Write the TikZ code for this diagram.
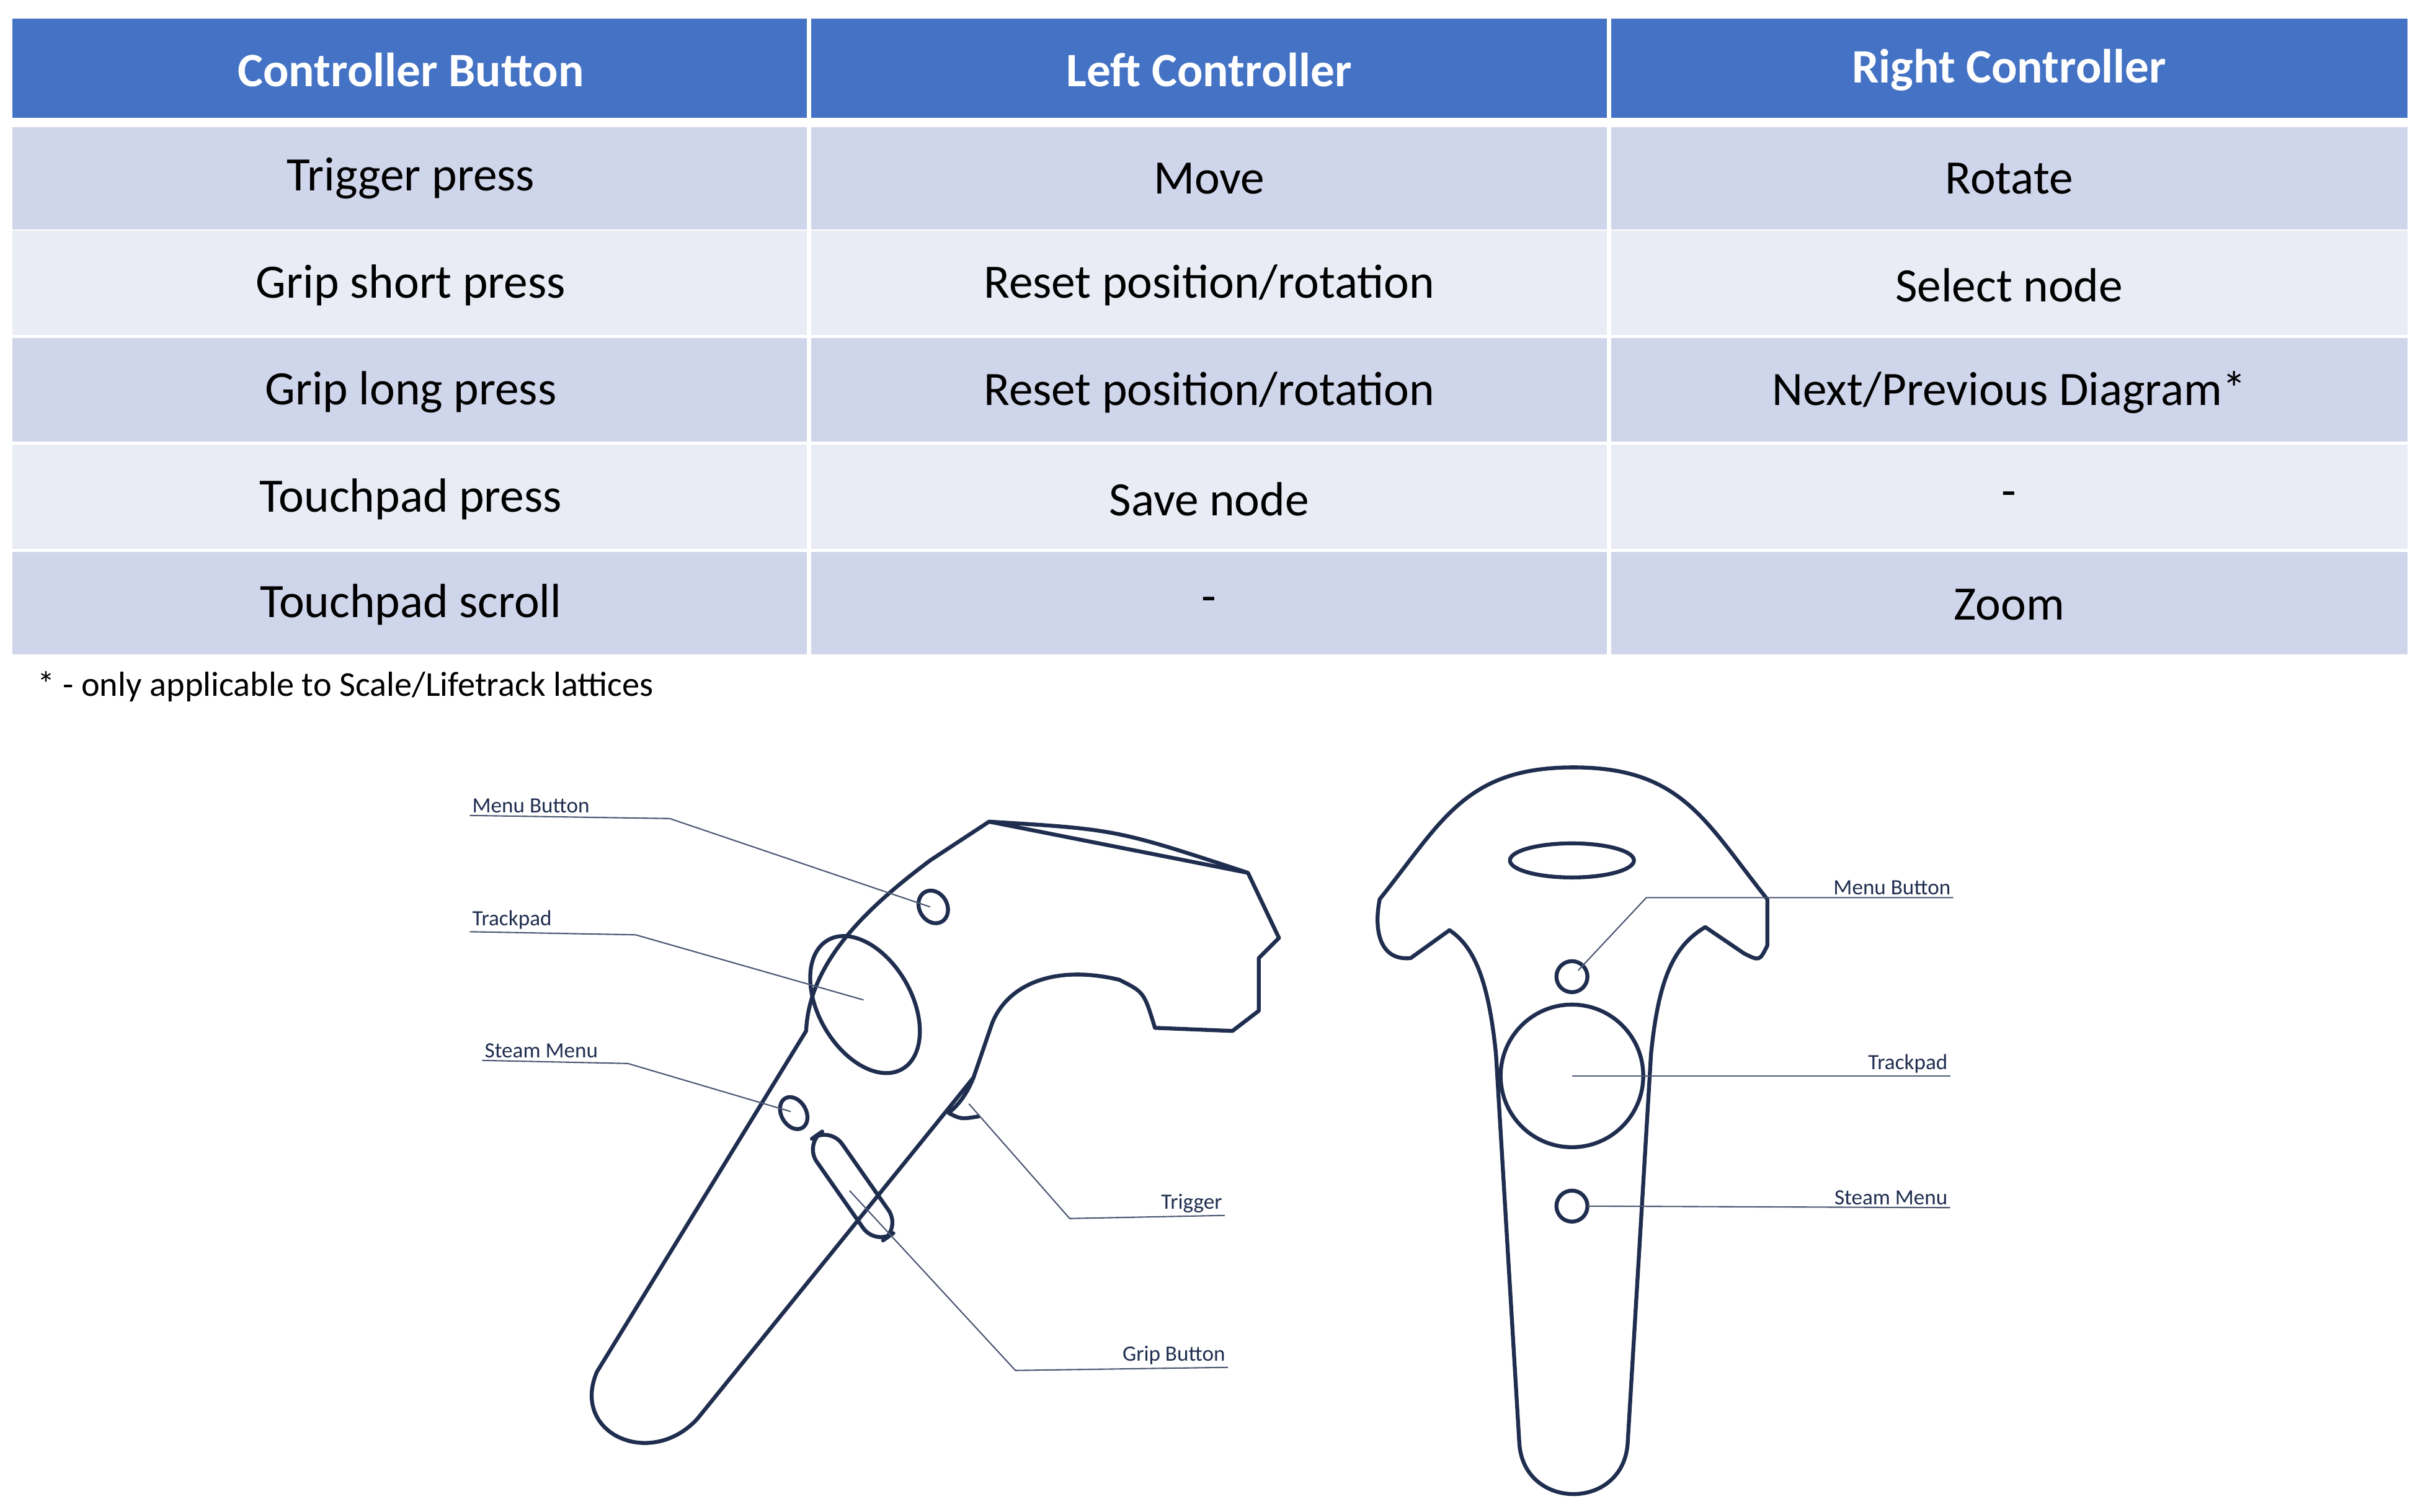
\documentclass[tikz,border=0pt]{standalone}
\usepackage{fontspec}
\setmainfont{Carlito}
\definecolor{hdr}{HTML}{4472C4}
\definecolor{rowa}{HTML}{CFD5EA}
\definecolor{rowb}{HTML}{E9EBF5}
\definecolor{ink}{HTML}{1F2D4F}
\begin{document}
\begin{tikzpicture}[x=0.025cm,y=-0.025cm,
  cell/.style={minimum width=12.85cm,minimum height=1.65cm,inner sep=0,anchor=center,font=\fontsize{22}{26}\selectfont},
  hcell/.style={cell,text=white,font=\fontsize{22}{26}\selectfont\bfseries},
  body/.style={draw=ink,line width=1.8pt,line join=round},
  lbl/.style={font=\fontsize{10}{12}\selectfont,text=ink,inner sep=1pt},
  lead/.style={draw=ink!80,line width=0.6pt}]
\useasboundingbox (0,0) rectangle (1563,975);
% table backgrounds
\fill[hdr] (8,12) rectangle (1553,76);
\foreach \a/\b/\c in {82/148/rowa,149/216/rowb,218/285/rowa,287/354/rowb,356/422/rowa}{\fill[\c] (8,\a) rectangle (1553,\b);}
\foreach \x in {522,1038}{\draw[white,line width=2pt] (\x,12)--(\x,422);}
\draw[white,line width=3pt] (8,79)--(1553,79);
% header
\node[hcell] (h1) at (265,45) {Controller Button};
\node[hcell] (h2) at (780,45) {Left Controller};
\node[hcell] (h3) at (1296,45) {Right Controller};
\node[cell] (r1a) at (265,115) {Trigger press};
\node[cell] (r1b) at (780,115) {Move};
\node[cell] (r1c) at (1296,115) {Rotate};
\node[cell] (r2a) at (265,184) {Grip short press};
\node[cell] (r2b) at (780,184) {Reset position/rotation};
\node[cell] (r2c) at (1296,184) {Select node};
\node[cell] (r3a) at (265,253) {Grip long press};
\node[cell] (r3b) at (780,253) {Reset position/rotation};
\node[cell] (r3c) at (1296,253) {Next/Previous Diagram*};
\node[cell] (r4a) at (265,322) {Touchpad press};
\node[cell] (r4b) at (780,322) {Save node};
\node[cell] (r4c) at (1296,322) {-};
\node[cell] (r5a) at (265,390) {Touchpad scroll};
\node[cell] (r5b) at (780,390) {-};
\node[cell] (r5c) at (1296,390) {Zoom};
\node[anchor=west,inner sep=0,font=\fontsize{16}{19}\selectfont] (foot) at (24,443) {* - only applicable to Scale/Lifetrack lattices};
% left controller
\draw[body] (638,530) -- (805,563) -- (825,605) -- (812,618) -- (812,652) -- (795,665) -- (745,663)
  .. controls (738,640) .. (722,632) .. controls (680,622) and (650,635) .. (640,660)
  -- (628,695) -- (450,915) .. controls (420,948) and (368,925) .. (385,885)
  -- (520,665) .. controls (522,620) and (560,585) .. (600,555) -- cycle;
\draw[body] (638,530) .. controls (720,535) .. (805,563);
\draw[body] (628,695) .. controls (622,710) and (615,715) .. (612,718) .. controls (620,722) .. (632,720);
\draw[body] (602,585) ellipse [x radius=9,y radius=11,rotate=30];
\draw[body] (558,648) ellipse [x radius=30,y radius=48,rotate=30];
\draw[body] (512,718) ellipse [x radius=8,y radius=11,rotate=30];
\draw[body,rotate around={-55:(550,765)},rounded corners=10] (510,755) rectangle (590,775);
\coordinate (lm) at (600,585); \coordinate (lt) at (557,645); \coordinate (ls) at (510,717);
\coordinate (ltr) at (625,712); \coordinate (lg) at (548,768);
\node[lbl,anchor=south west] (Lm) at (303,526) {Menu Button};
\node[lbl,anchor=south west] (Lt) at (303,601) {Trackpad};
\node[lbl,anchor=south west] (Ls) at (311,684) {Steam Menu};
\node[lbl,anchor=south east] (Ltr) at (790,784) {Trigger};
\node[lbl,anchor=south east] (Lg) at (792,882) {Grip Button};
\draw[lead] (Lm.south west) -- (432,528) -- (lm);
\draw[lead] (Lt.south west) -- (410,603) -- (lt);
\draw[lead] (Ls.south west) -- (405,686) -- (ls);
\draw[lead] (Ltr.south east) -- (690,786) -- (ltr);
\draw[lead] (Lg.south east) -- (655,884) -- (lg);
% right controller
\draw[body] (890,580) .. controls (930,530) and (945,495) .. (1015,495)
  .. controls (1085,495) and (1100,530) .. (1140,580) -- (1140,610) .. controls (1135,620) .. (1125,615)
  -- (1100,598) .. controls (1080,610) and (1070,630) .. (1065,680) -- (1050,930)
  .. controls (1048,975) and (982,975) .. (980,930) -- (965,680)
  .. controls (960,630) and (950,610) .. (935,600) -- (910,618) .. controls (890,620) and (886,600) .. (890,580) -- cycle;
\draw[body] (1014,555) ellipse [x radius=40,y radius=11];
\draw[body] (1014,630) circle (10);
\draw[body] (1014,694) circle (46);
\draw[body] (1014,778) circle (10);
\coordinate (rm) at (1018,626); \coordinate (rt) at (1014,694); \coordinate (rs) at (1024,778);
\node[lbl,anchor=south east] (Rm) at (1260,579) {Menu Button};
\node[lbl,anchor=south east] (Rt) at (1258,694) {Trackpad};
\node[lbl,anchor=south east] (Rs) at (1258,779) {Steam Menu};
\draw[lead] (Rm.south east) -- (1062,579) -- (rm);
\draw[lead] (Rt.south east) -- (rt);
\draw[lead] (Rs.south east) -- (rs);
\end{tikzpicture}
\end{document}
